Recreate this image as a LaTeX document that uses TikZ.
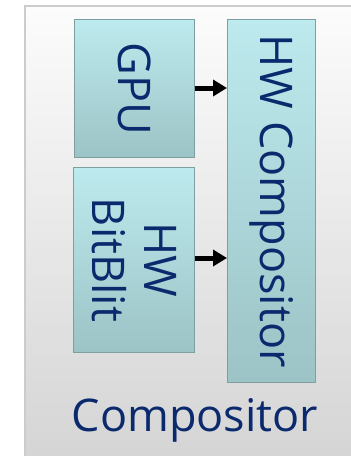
\documentclass[tikz,border=0pt]{standalone}
\usepackage{fontspec}
\setmainfont{Open Sans}
\usetikzlibrary{arrows.meta}
\definecolor{txt}{HTML}{0B2A6E}
\definecolor{boxtop}{HTML}{BDEAEE}
\definecolor{boxbot}{HTML}{9CC3C6}
\definecolor{boxedge}{HTML}{7E9FA2}
\definecolor{paneltop}{HTML}{FCFCFC}
\definecolor{panelbot}{HTML}{D4D4D4}
\tikzset{
  unit/.style={draw=boxedge, line width=1.2pt, top color=boxtop, bottom color=boxbot, inner sep=0pt},
  lbl/.style={text=txt, font=\fontsize{45}{52}\selectfont, rotate=-90, align=center},
  conn/.style={-{Triangle[length=14pt,width=16pt]}, line width=5pt, black}
}
\begin{document}
\begin{tikzpicture}[x=1pt,y=-1pt]
\useasboundingbox (0,0) rectangle (351,456);
\fill[white] (0,0) rectangle (351,456);
\node[draw=gray!40, line width=1.5pt, top color=paneltop, bottom color=panelbot, minimum width=340pt, minimum height=460pt, anchor=north west, inner sep=0pt] (panel) at (24,5) {};
\node[unit, minimum width=120pt, minimum height=138pt, anchor=north west] (gpu) at (74,19) {};
\node[lbl] at (gpu.center) {GPU};
\node[unit, minimum width=121pt, minimum height=185pt, anchor=north west] (blit) at (73,167) {};
\node[lbl] at (blit.center) {HW\\BitBlit};
\node[unit, minimum width=88pt, minimum height=363pt, anchor=north west] (hwc) at (227,19) {};
\node[lbl] at (hwc.center) {HW Compositor};
\node[text=txt, font=\fontsize{45}{52}\selectfont] (comp) at (195,420) {Compositor};
\coordinate (a1) at (gpu.east |- 0,88);
\coordinate (b1) at (hwc.west |- 0,88);
\coordinate (a2) at (blit.east |- 0,258);
\coordinate (b2) at (hwc.west |- 0,258);
\draw[conn, shorten <=-0.6pt] (a1) -- (b1);
\draw[conn, shorten <=-0.6pt] (a2) -- (b2);
\end{tikzpicture}
\end{document}
